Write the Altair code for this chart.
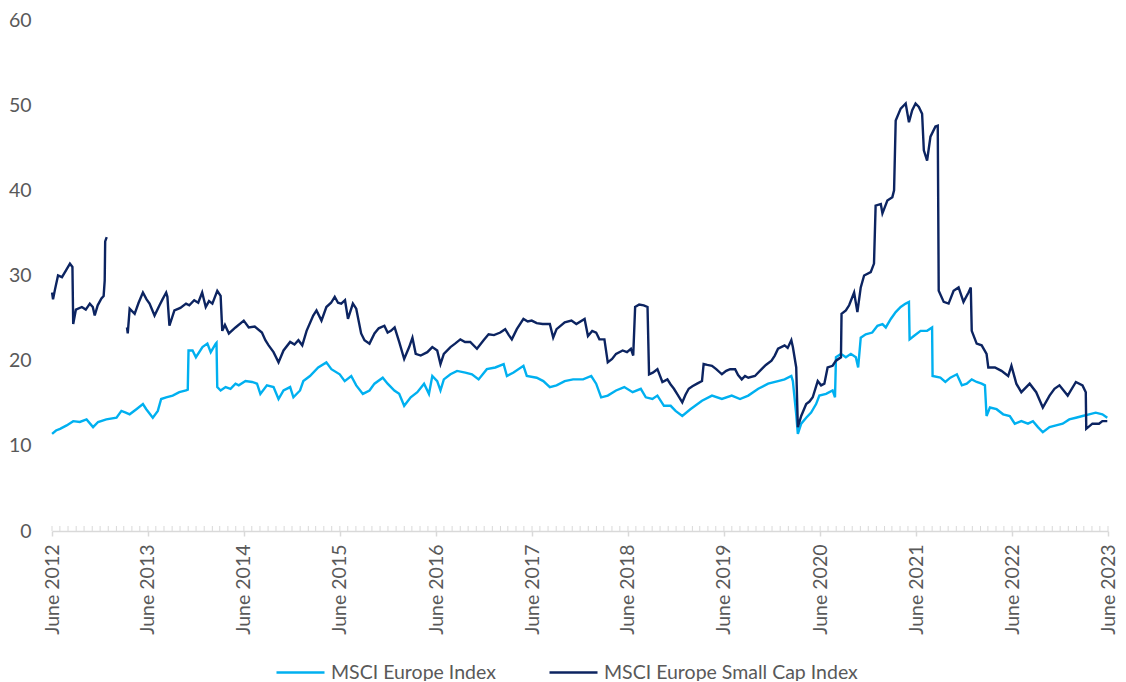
import altair as alt
import numpy as np
import pandas as pd

EUROPE = "MSCI Europe Index"
SMALL = "MSCI Europe Small Cap Index"

# time in decimal years
europe_t = [2012.417, 2012.458, 2012.500, 2012.569, 2012.637, 2012.706, 2012.776, 2012.844, 2012.896, 2012.982,
            2013.086, 2013.137, 2013.182, 2013.223, 2013.293, 2013.361, 2013.396, 2013.464, 2013.516, 2013.551,
            2013.603, 2013.671, 2013.740, 2013.810, 2013.828, 2013.836, 2013.878, 2013.913, 2013.981,
            2014.033, 2014.068, 2014.120, 2014.128, 2014.136, 2014.171, 2014.223, 2014.274, 2014.326, 2014.360,
            2014.430, 2014.498, 2014.550, 2014.585, 2014.653, 2014.722, 2014.774, 2014.826, 2014.895, 2014.929, 2014.998,
            2015.033, 2015.102, 2015.188, 2015.273, 2015.325, 2015.412, 2015.464, 2015.532, 2015.584, 2015.653,
            2015.722, 2015.774, 2015.860, 2015.911, 2015.981,
            2016.032, 2016.084, 2016.152, 2016.221, 2016.291, 2016.342, 2016.377, 2016.428, 2016.462, 2016.497,
            2016.566, 2016.635, 2016.721, 2016.790, 2016.859, 2016.945,
            2017.031, 2017.118, 2017.152, 2017.221, 2017.324, 2017.359, 2017.462, 2017.531, 2017.599, 2017.669,
            2017.754, 2017.841, 2017.945,
            2018.031, 2018.082, 2018.134, 2018.203, 2018.289, 2018.375, 2018.462, 2018.547, 2018.599, 2018.668,
            2018.720, 2018.788, 2018.858, 2018.909, 2018.979,
            2019.064, 2019.185, 2019.289, 2019.392, 2019.495, 2019.581, 2019.667, 2019.771, 2019.874, 2019.977,
            2020.046, 2020.116, 2020.132, 2020.167, 2020.184, 2020.219, 2020.271, 2020.322, 2020.374, 2020.408,
            2020.478, 2020.546, 2020.571, 2020.581, 2020.633, 2020.684, 2020.736, 2020.788, 2020.812, 2020.839,
            2020.891, 2020.959,
            2021.011, 2021.063, 2021.098, 2021.150, 2021.201, 2021.253, 2021.305, 2021.339, 2021.346, 2021.390,
            2021.460, 2021.528, 2021.580, 2021.585, 2021.666, 2021.718, 2021.770, 2021.838, 2021.890, 2021.941, 2021.993,
            2022.045, 2022.097, 2022.131, 2022.148, 2022.183, 2022.252, 2022.321, 2022.390, 2022.442, 2022.510,
            2022.579, 2022.631, 2022.683, 2022.734, 2022.804, 2022.872, 2022.941,
            2023.010, 2023.079, 2023.148, 2023.217, 2023.285, 2023.355, 2023.406]
europe_v = [11.4, 11.8, 12.0, 12.4, 12.9, 12.8, 13.1, 12.2, 12.8, 13.1,
            13.3, 14.1, 13.9, 13.7, 14.3, 14.9, 14.3, 13.3, 14.1, 15.5, 15.7, 15.9, 16.3, 16.5, 16.6, 21.2, 21.2, 20.4, 21.6,
            22.0, 21.0, 22.0, 22.1, 16.9, 16.5, 16.9, 16.7, 17.3, 17.1, 17.6, 17.5, 17.3, 16.1, 17.1, 16.9, 15.5, 16.5, 16.9, 15.7, 16.5,
            17.6, 18.2, 19.2, 19.8, 19.0, 18.4, 17.6, 18.2, 17.1, 16.1, 16.5, 17.3, 18.0, 17.3, 16.5,
            16.1, 14.7, 15.7, 16.3, 17.3, 16.1, 18.2, 17.6, 16.5, 17.8, 18.4, 18.8, 18.6, 18.4, 17.8, 19.0,
            19.2, 19.6, 18.2, 18.6, 19.4, 18.2, 18.0, 17.6, 16.9, 17.1, 17.6, 17.8, 17.8,
            18.2, 17.3, 15.7, 15.9, 16.5, 16.9, 16.3, 16.7, 15.7, 15.5, 15.9, 14.7, 14.7, 14.1, 13.5,
            14.3, 15.3, 15.9, 15.5, 15.9, 15.5, 15.9, 16.7, 17.3, 17.6,
            17.8, 18.2, 17.6, 13.7, 11.4, 12.6, 13.3, 13.9, 14.9, 15.9, 16.1, 16.5, 15.7, 20.4, 20.8, 20.4, 20.8, 20.4, 19.2,
            22.7, 23.1, 23.3,
            24.1, 24.3, 23.9, 24.9, 25.7, 26.3, 26.7, 26.9, 22.5, 22.9, 23.5, 23.5, 23.9, 18.2, 18.0, 17.5, 18.0, 18.4,
            17.1, 17.3, 17.8,
            17.5, 17.3, 17.1, 13.5, 14.5, 14.3, 13.7, 13.5, 12.6, 12.9, 12.6, 12.9, 12.2, 11.6, 12.2, 12.4, 12.6,
            13.1, 13.3, 13.5, 13.7, 13.9, 13.7, 13.3]

# Small cap, first stretch (mid 2012), then a break in the data
small1_t = [2012.417, 2012.427, 2012.448, 2012.479, 2012.520, 2012.562, 2012.603, 2012.629, 2012.637, 2012.665,
            2012.727, 2012.768, 2012.810, 2012.841, 2012.861, 2012.892, 2012.931, 2012.954, 2012.965, 2012.970, 2012.986]
small1_v = [28.0, 27.2, 28.4, 30.0, 29.8, 30.6, 31.4, 31.0, 24.3, 26.0,
            26.3, 26.0, 26.7, 26.3, 25.3, 26.5, 27.3, 27.6, 29.4, 34.0, 34.5]

small2_t = [2013.195, 2013.203, 2013.223, 2013.275, 2013.316, 2013.361, 2013.399, 2013.430, 2013.482, 2013.534,
            2013.565, 2013.603, 2013.616, 2013.637, 2013.689, 2013.751, 2013.810, 2013.844, 2013.895, 2013.937,
            2013.978, 2014.016, 2014.050, 2014.085, 2014.136, 2014.171, 2014.188, 2014.216, 2014.257, 2014.326,
            2014.412, 2014.464, 2014.526, 2014.601, 2014.637, 2014.671, 2014.722, 2014.774, 2014.826, 2014.895,
            2014.940, 2014.981, 2015.022, 2015.067, 2015.136, 2015.170, 2015.222, 2015.273, 2015.322, 2015.360,
            2015.394, 2015.428, 2015.467, 2015.498, 2015.549, 2015.584, 2015.635, 2015.670, 2015.722, 2015.774,
            2015.818, 2015.877, 2015.911, 2015.945, 2015.984, 2016.032, 2016.084, 2016.136, 2016.170, 2016.204,
            2016.256, 2016.325, 2016.377, 2016.428, 2016.462, 2016.497, 2016.566, 2016.614, 2016.669, 2016.718,
            2016.772, 2016.842, 2016.911, 2016.963, 2017.017, 2017.083, 2017.134, 2017.172, 2017.203, 2017.255,
            2017.324, 2017.369, 2017.410, 2017.462, 2017.524, 2017.599, 2017.634, 2017.669, 2017.754, 2017.824,
            2017.875, 2017.961, 2017.996, 2018.041, 2018.082, 2018.116, 2018.168, 2018.203, 2018.248, 2018.289,
            2018.358, 2018.403, 2018.444, 2018.468, 2018.488, 2018.530, 2018.578, 2018.617, 2018.633, 2018.672,
            2018.720, 2018.772, 2018.824, 2018.858, 2018.892, 2018.930, 2018.979, 2019.013, 2019.047, 2019.085,
            2019.134, 2019.185, 2019.202, 2019.240, 2019.289, 2019.333, 2019.392, 2019.437, 2019.478, 2019.530,
            2019.561, 2019.599, 2019.633, 2019.667, 2019.736, 2019.806, 2019.850, 2019.909, 2019.943, 2019.977,
            2020.046, 2020.078, 2020.116, 2020.132, 2020.167, 2020.184, 2020.219, 2020.271, 2020.305, 2020.339,
            2020.391, 2020.426, 2020.460, 2020.494, 2020.546, 2020.581, 2020.633, 2020.639, 2020.684, 2020.718,
            2020.770, 2020.804, 2020.839, 2020.874, 2020.943, 2020.977, 2020.994, 2021.046, 2021.063, 2021.114,
            2021.166, 2021.184, 2021.201, 2021.253, 2021.305, 2021.339, 2021.373, 2021.408, 2021.442, 2021.476,
            2021.494, 2021.528, 2021.563, 2021.615, 2021.639, 2021.649, 2021.701, 2021.752, 2021.804, 2021.856,
            2021.907, 2021.959, 2021.983, 2021.993, 2022.045, 2022.097, 2022.148, 2022.166, 2022.235, 2022.303,
            2022.373, 2022.407, 2022.458, 2022.510, 2022.597, 2022.665, 2022.734, 2022.804, 2022.855, 2022.907,
            2022.993, 2023.079, 2023.148, 2023.182, 2023.187, 2023.251, 2023.320, 2023.355, 2023.406]
small2_v = [23.9, 23.2, 26.1, 25.5, 26.8, 28.0, 27.2, 26.7, 25.3, 26.5,
            27.2, 28.0, 27.5, 24.1, 25.9, 26.2, 26.7, 26.5, 27.1, 26.8,
            28.0, 26.3, 27.0, 26.7, 28.2, 27.6, 23.5, 24.2, 23.2, 23.9,
            24.7, 23.9, 24.0, 23.3, 22.4, 21.8, 21.0, 19.8, 21.2, 22.2,
            21.9, 22.4, 21.8, 23.5, 25.3, 25.9, 24.7, 26.3, 26.8, 27.5,
            26.8, 26.7, 27.1, 24.9, 26.7, 26.1, 23.2, 22.4, 22.0, 23.2,
            23.8, 24.1, 23.3, 23.5, 23.9, 22.2, 20.2, 21.6, 22.7, 20.8,
            20.6, 21.0, 21.6, 21.2, 19.6, 20.8, 21.6, 22.0, 22.5, 22.2,
            22.2, 21.4, 22.4, 23.1, 23.0, 23.3, 23.7, 23.0, 22.5, 23.7,
            24.9, 24.6, 24.7, 24.4, 24.3, 24.3, 22.7, 23.7, 24.5, 24.7,
            24.3, 24.9, 22.9, 23.5, 23.3, 22.5, 22.5, 19.8, 20.2, 20.8,
            21.2, 21.0, 21.4, 20.6, 26.3, 26.6, 26.5, 26.3, 18.4, 18.6,
            19.0, 17.5, 17.8, 17.2, 16.7, 16.0, 15.1, 16.0, 16.7, 17.0,
            17.3, 17.6, 19.6, 19.5, 19.4, 19.0, 18.4, 18.8, 19.0, 19.0,
            18.3, 17.8, 18.2, 18.0, 18.2, 19.0, 19.5, 20.0, 20.6, 21.4,
            21.8, 21.5, 22.4, 21.6, 19.2, 12.2, 13.5, 14.9, 15.2, 15.7,
            17.6, 17.1, 17.3, 19.2, 19.4, 20.0, 20.4, 25.5, 25.9, 26.5,
            28.0, 25.7, 28.6, 30.0, 30.4, 31.4, 38.2, 38.4, 37.3, 38.8,
            39.2, 40.0, 48.2, 49.6, 50.2, 48.0, 49.4, 50.2, 49.8, 49.0,
            44.7, 43.5, 46.3, 47.5, 47.6, 28.2, 26.9, 26.7, 28.2, 28.6,
            26.9, 28.0, 28.6, 23.5, 22.0, 21.8, 20.8, 19.2, 19.2, 18.8,
            18.2, 19.4, 17.3, 16.3, 17.3, 16.3, 14.5, 15.9, 16.7, 17.1,
            15.9, 17.5, 17.1, 16.3, 12.0, 12.6, 12.6, 12.9, 12.9]

y_ticks = [0, 10, 20, 30, 40, 50, 60]
tick_years = list(range(2012, 2024))


def to_dates(t):
    t = np.asarray(t, dtype=float)
    yr = np.floor(t).astype(int)
    start = pd.to_datetime([f"{y}-01-01" for y in yr])
    return start + pd.to_timedelta((t - yr) * 365.25, unit="D")


frames = [
    pd.DataFrame({"date": to_dates(europe_t), "value": europe_v, "series": EUROPE, "segment": "e"}),
    pd.DataFrame({"date": to_dates(small1_t), "value": small1_v, "series": SMALL, "segment": "s1"}),
    pd.DataFrame({"date": to_dates(small2_t), "value": small2_v, "series": SMALL, "segment": "s2"}),
]
df = pd.concat(frames, ignore_index=True)

months = pd.DataFrame({"date": pd.date_range("2012-06-01", "2023-06-01", freq="MS")})

W, H = 1056, 511
GREY = "#595959"
AX = "#d9d9d9"
FONT = "Lato"
FS = 19.5

x_scale = alt.Scale(domain=[alt.DateTime(year=2012, month=6, date=1),
                            alt.DateTime(year=2023, month=6, date=1)])
x_axis = alt.Axis(values=[alt.DateTime(year=y, month=6, date=1) for y in tick_years],
                  format="June %Y", labelAngle=270, tickSize=5, tickColor=AX,
                  tickWidth=1.5, domainColor=AX, domainWidth=1.5, grid=False,
                  labelFont=FONT, labelFontSize=FS, labelColor=GREY,
                  labelPadding=8, labelOverlap=False, title=None)

minor = alt.Chart(months).mark_rule(color=AX, strokeWidth=1).encode(
    x=alt.X("date:T", scale=x_scale, axis=x_axis),
    y=alt.value(H - 5),
    y2=alt.value(H),
)

lines = alt.Chart(df).mark_line(strokeWidth=2.4).encode(
    x=alt.X("date:T", scale=x_scale, axis=x_axis),
    y=alt.Y("value:Q", scale=alt.Scale(domain=[0, 60], nice=False),
            axis=alt.Axis(values=y_ticks, domain=False, ticks=False, grid=False,
                          labelFont=FONT, labelFontSize=FS, labelColor=GREY,
                          labelPadding=21, title=None)),
    color=alt.Color("series:N",
                    scale=alt.Scale(domain=[EUROPE, SMALL], range=["#00B0F0", "#0C2461"]),
                    legend=alt.Legend(title=None, orient="none", legendX=223, legendY=627,
                                      direction="horizontal", symbolType="stroke",
                                      symbolSize=2304, symbolStrokeWidth=2.5,
                                      labelFont=FONT, labelFontSize=FS, labelColor=GREY,
                                      labelOffset=5, columnPadding=48, labelLimit=400)),
    detail="segment:N",
)

chart = alt.layer(minor, lines).properties(
    width=W, height=H,
    autosize=alt.AutoSizeParams(type="none"),
    padding={"left": 44, "top": 12, "right": 10, "bottom": 150},
).configure_view(strokeWidth=0)

chart.save("out.html", embed_options={"renderer": "svg", "actions": False})
